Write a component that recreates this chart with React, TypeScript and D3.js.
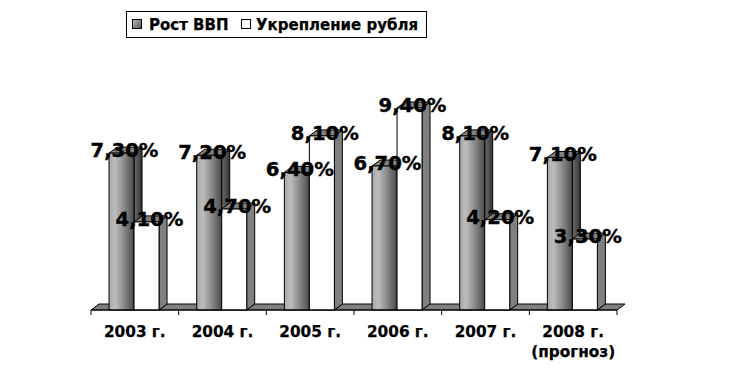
import React from "react";
import * as d3 from "d3";

const categories = ["2003 г.", "2004 г.", "2005 г.", "2006 г.", "2007 г.", "2008 г."];
const categoryNotes = ["", "", "", "", "", "(прогноз)"];
const gdpGrowth = [7.3, 7.2, 6.4, 6.7, 8.1, 7.1];
const rubleGain = [4.1, 4.7, 8.1, 9.4, 4.2, 3.3];
const gdpLabels = ["7,30%", "7,20%", "6,40%", "6,70%", "8,10%", "7,10%"];
const rubleLabels = ["4,10%", "4,70%", "8,10%", "9,40%", "4,20%", "3,30%"];
const legendNames = ["Рост ВВП", "Укрепление рубля"];

const W = 737, H = 383, DX = 8, DY = 6;
const FONT = "'DejaVu Sans', sans-serif";
const x = d3.scaleBand<string>().domain(categories).range([91, 617]);
const y = d3.scaleLinear().domain([0, 9.4]).range([310, 108]);

function pts(p: number[][]) { return p.map((q) => q.join(",")).join(" "); }

function Bar({ left, w, v, kind }: { left: number; w: number; v: number; kind: "gdp" | "rub" }) {
  const t = y(v), b = y(0), r = left + w;
  return (
    <g stroke="#000" strokeWidth={1}>
      <polygon points={pts([[r, b], [r + DX, b - DY], [r + DX, t - DY], [r, t]])}
        fill={kind === "gdp" ? "url(#sideGrad)" : "#808080"} />
      <polygon points={pts([[left, t], [left + DX, t - DY], [r + DX, t - DY], [r, t]])} fill="#808080" />
      <rect x={left} y={t} width={w} height={b - t} fill={kind === "gdp" ? "url(#barGrad)" : "#fff"} />
    </g>
  );
}

export default function App() {
  const bw = x.bandwidth();
  const base = y(0);
  const barW = 25;
  const off = (bw - 2 * barW) / 2 - 0.8;
  return (
    <svg width={W} height={H} style={{ position: "absolute", left: 0, top: 0, background: "#fff" }}>
      <defs>
        <linearGradient id="barGrad" x1="0" x2="1" y1="0" y2="0">
          <stop offset="0" stopColor="#a8a8a8" />
          <stop offset="0.25" stopColor="#bdbdbd" />
          <stop offset="0.6" stopColor="#8a8a8a" />
          <stop offset="1" stopColor="#4a4a4a" />
        </linearGradient>
        <linearGradient id="sideGrad" x1="0" x2="1" y1="0" y2="0">
          <stop offset="0" stopColor="#6e6e6e" />
          <stop offset="1" stopColor="#333" />
        </linearGradient>
        <linearGradient id="legendGrad" x1="0" x2="1" y1="0" y2="1">
          <stop offset="0" stopColor="#c0c0c0" />
          <stop offset="1" stopColor="#505050" />
        </linearGradient>
      </defs>

      {/* floor */}
      <polygon points={pts([[91, base], [91 + DX, base - DY], [617 + DX, base - DY], [617, base]])}
        fill="#808080" stroke="#000" />
      {categories.map((c) => {
        const x1 = (x(c) as number) + off + 2 * barW;
        return <line key={c} x1={x1} y1={base} x2={x1 + DX} y2={base - DY} stroke="#000" />;
      })}

      {categories.map((c, i) => {
        const left = (x(c) as number) + off;
        return (
          <g key={c}>
            <Bar left={left} w={barW} v={gdpGrowth[i]} kind="gdp" />
            <Bar left={left + barW} w={barW} v={rubleGain[i]} kind="rub" />
          </g>
        );
      })}

      {/* axis */}
      <line x1={91} x2={617} y1={base} y2={base} stroke="#000" />
      {[...categories.map((c) => x(c) as number), 617].map((t) => (
        <line key={t} x1={t} x2={t} y1={base} y2={base + 5} stroke="#000" />
      ))}
      {categories.map((c, i) => {
        const cx = (x(c) as number) + bw / 2;
        return (
          <g key={c} fontFamily={FONT} fontWeight="bold" fontSize={15.3} textAnchor="middle" fill="#000" stroke="#000" strokeWidth={0.25}>
            <text x={cx} y={337}>{c}</text>
            {categoryNotes[i] && <text x={cx} y={357}>{categoryNotes[i]}</text>}
          </g>
        );
      })}

      {/* data labels */}
      {categories.map((c, i) => {
        const left = (x(c) as number) + off;
        return (
          <g key={c} fontFamily={FONT} fontWeight="bold" fontSize={19.6} textAnchor="middle" fill="#000" stroke="#000" strokeWidth={0.4}>
            <text x={left + barW / 2 + 3} y={y(gdpGrowth[i]) + 4}>{gdpLabels[i]}</text>
            <text x={left + barW * 1.5 + 3} y={y(rubleGain[i]) + 4}>{rubleLabels[i]}</text>
          </g>
        );
      })}

      {/* legend */}
      <rect x={126.5} y={11.5} width={300} height={26} fill="#fff" stroke="#000" />
      <rect x={132.5} y={19.5} width={9} height={9} fill="url(#legendGrad)" stroke="#000" />
      <rect x={241.5} y={19.5} width={9} height={9} fill="#fff" stroke="#000" />
      <g fontFamily={FONT} fontWeight="bold" fontSize={15} fill="#000" stroke="#000" strokeWidth={0.25}>
        <text x={149} y={30}>{legendNames[0]}</text>
        <text x={256} y={30}>{legendNames[1]}</text>
      </g>
    </svg>
  );
}
